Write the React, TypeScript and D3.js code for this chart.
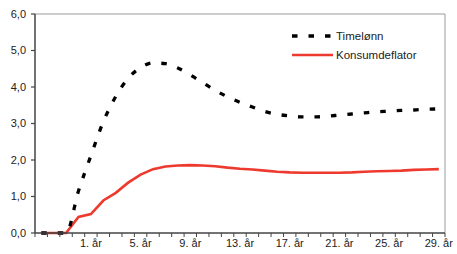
import React from 'react';
import * as d3 from 'd3';

// years -3 .. 29 (one category per year)
const years = [-3, -2, -1, 0, 1, 2, 3, 4, 5, 6, 7, 8, 9, 10, 11, 12, 13, 14, 15, 16, 17, 18, 19, 20, 21, 22, 23, 24, 25, 26, 27, 28, 29];

const timelonn = [
  0, 0, 0, 1.15, 2.12, 3.05, 3.74, 4.24, 4.53, 4.66, 4.64, 4.52, 4.33, 4.12, 3.91, 3.73, 3.58,
  3.45, 3.33, 3.25, 3.21, 3.18, 3.18, 3.2, 3.23, 3.26, 3.29, 3.32, 3.34, 3.36, 3.37, 3.39, 3.4,
];

const konsumdeflator = [
  0, 0, 0, 0.44, 0.52, 0.89, 1.1, 1.38, 1.6, 1.75, 1.82, 1.85, 1.86, 1.85, 1.83, 1.79, 1.76,
  1.74, 1.71, 1.68, 1.66, 1.65, 1.65, 1.65, 1.65, 1.66, 1.68, 1.69, 1.7, 1.71, 1.73, 1.74, 1.75,
];

const labelYears = [1, 5, 9, 13, 17, 21, 25, 29];
const yTicks = [0, 1, 2, 3, 4, 5, 6];

const W = 457;
const H = 254;
const left = 35;
const right = 445;
const top = 14;
const bottom = 233;

const font = 'Liberation Sans, Arial, sans-serif';

const App = () => {
  const x = d3.scaleBand<number>().domain(years).range([left, right]).padding(0);
  const bw = x.bandwidth();
  const cx = (yr: number) => (x(yr) ?? 0) + bw / 2;
  const y = d3.scaleLinear().domain([0, 6]).range([bottom, top]);
  const fmt = (v: number) => d3.format('.1f')(v).replace('.', ',');

  const lineBlack = d3
    .line<number>()
    .x((_, i) => cx(years[i]))
    .y((d) => y(d))
    .curve(d3.curveMonotoneX);
  const lineRed = d3
    .line<number>()
    .x((_, i) => cx(years[i]))
    .y((d) => y(d));

  const boundaries = years.map((yr) => x(yr) ?? 0).concat([right]);

  return (
    <svg width={W} height={H} style={{ position: 'absolute', left: 0, top: 0 }} fontFamily={font}>
      <rect width={W} height={H} fill="#fff" />
      {/* frame */}
      <line x1={left} x2={right} y1={top} y2={top} stroke="#9a9a9a" strokeWidth={1} />
      <line x1={right} x2={right} y1={top} y2={bottom} stroke="#9a9a9a" strokeWidth={1} />

      {/* data */}
      <path d={lineRed(konsumdeflator) ?? ''} fill="none" stroke="#ee3a2e" strokeWidth={2.6} />
      <path
        d={lineBlack(timelonn) ?? ''}
        fill="none"
        stroke="#000"
        strokeWidth={3.3}
        strokeDasharray="5.5,11"
      />

      {/* y axis */}
      <line x1={left} x2={left} y1={top} y2={bottom} stroke="#444" strokeWidth={1.5} />
      {yTicks.map((t) => (
        <g key={t}>
          <line x1={left - 4} x2={left} y1={y(t)} y2={y(t)} stroke="#444" strokeWidth={1.2} />
          <text x={26} y={y(t)} dy="0.35em" textAnchor="end" fontSize={11} fill="#222">
            {fmt(t)}
          </text>
        </g>
      ))}

      {/* x axis */}
      <line x1={left} x2={right} y1={bottom} y2={bottom} stroke="#444" strokeWidth={1.5} />
      {boundaries.map((b, i) => (
        <line key={i} x1={b} x2={b} y1={bottom} y2={bottom + 4} stroke="#444" strokeWidth={1} />
      ))}
      {labelYears.map((yr) => (
        <text key={yr} x={cx(yr)} y={247} textAnchor="middle" fontSize={11} fill="#222">
          {`${yr}. år`}
        </text>
      ))}

      {/* legend */}
      <line x1={292} x2={333} y1={36} y2={36} stroke="#000" strokeWidth={3.3} strokeDasharray="5.5,11" strokeDashoffset={0} />
      <text x={336} y={36} dy="0.35em" fontSize={11.5} fill="#222">Timelønn</text>
      <line x1={292} x2={333} y1={55} y2={55} stroke="#ee3a2e" strokeWidth={2.6} />
      <text x={336} y={55} dy="0.35em" fontSize={11.5} fill="#222">Konsumdeflator</text>
    </svg>
  );
};

export default App;
